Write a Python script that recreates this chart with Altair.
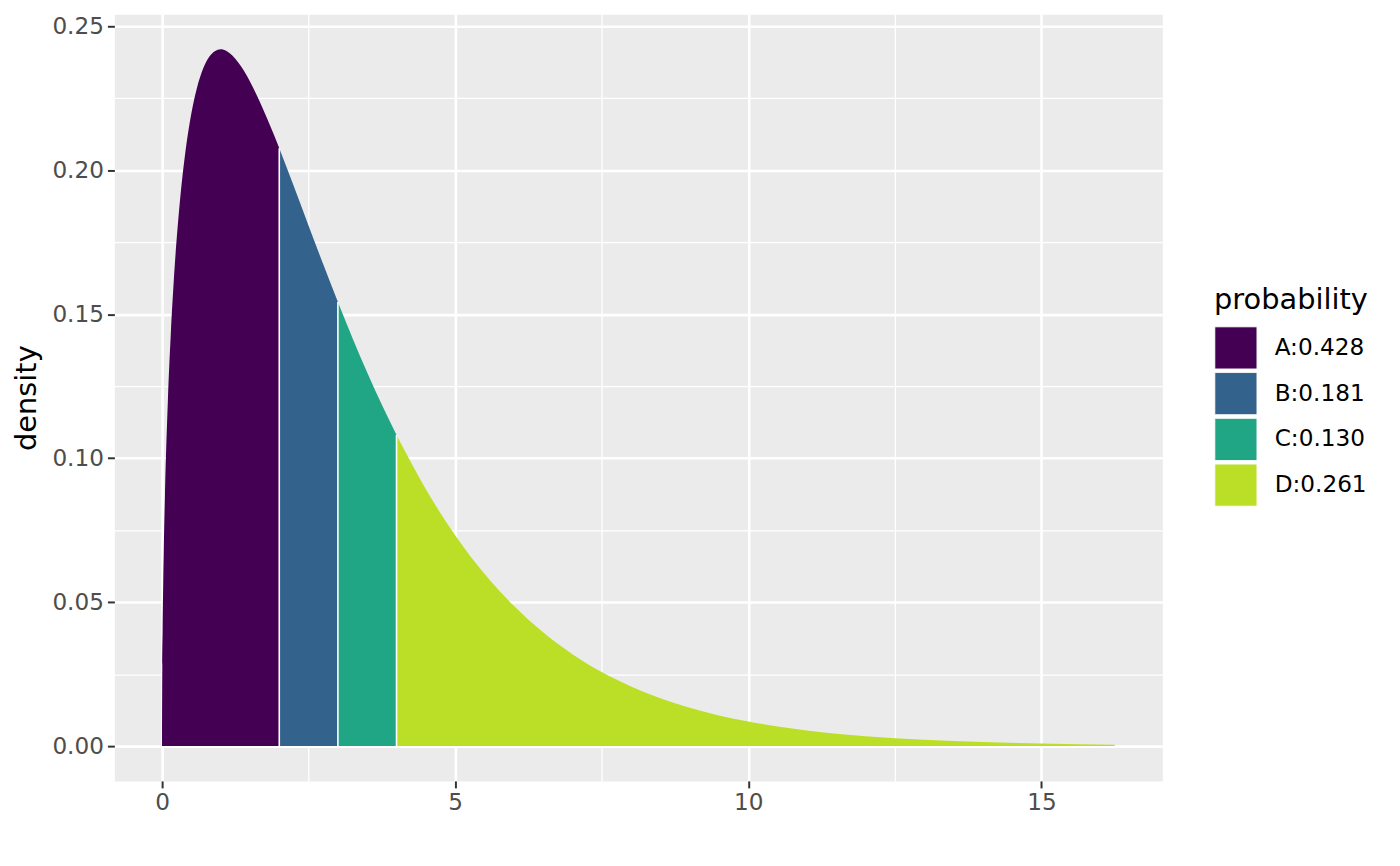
import pandas as pd
import altair as alt

# density curve
xs = [0, 0.005, 0.01, 0.02, 0.03, 0.05, 0.1, 0.15, 0.2, 0.3, 0.4, 0.5, 0.6, 0.7,
      0.8, 0.9, 1.0, 1.1, 1.2, 1.3, 1.4, 1.5, 1.6, 1.7, 1.8, 1.9, 2.0, 2.25, 2.5,
      2.75, 3.0, 3.25, 3.5, 3.75, 4.0, 4.5, 5.0, 5.5, 6.0, 6.5, 7.0, 7.5, 8.0,
      8.5, 9.0, 9.5, 10.0, 10.5, 11.0, 11.5, 12.0, 13.0, 14.0, 15.0, 16.25]
dens = [0, 0.0281, 0.0397, 0.0559, 0.0681, 0.0870, 0.1200, 0.1433, 0.1614,
        0.1881, 0.2066, 0.2197, 0.2289, 0.2352, 0.2392, 0.2413, 0.2420, 0.2414,
        0.2398, 0.2374, 0.2344, 0.2308, 0.2267, 0.2223, 0.2176, 0.2127, 0.2076,
        0.1943, 0.1807, 0.1673, 0.1542, 0.1416, 0.1297, 0.1185, 0.1080, 0.0892,
        0.0732, 0.0598, 0.0487, 0.0395, 0.0319, 0.0257, 0.0207, 0.0166, 0.0133,
        0.0106, 0.0085, 0.0068, 0.0054, 0.0043, 0.0034, 0.0022, 0.0014, 0.00086,
        0.00048]

groups = ['A', 'B', 'C', 'D']
probs = [0.428, 0.181, 0.130, 0.261]
cuts = [0, 2, 3, 4, 16.25]
colors = ['#440154', '#33638D', '#21A685', '#BBDF27']

# major + minor grid positions
x_ticks = [0, 2.5, 5, 7.5, 10, 12.5, 15]
y_ticks = [0, 0.025, 0.05, 0.075, 0.10, 0.125, 0.15, 0.175, 0.20, 0.225, 0.25]

curve = pd.DataFrame({'x': xs, 'density': dens})
labels = [f'{g}:{p:.3f}' for g, p in zip(groups, probs)]

parts = []
for i, lab in enumerate(labels):
    seg = curve[(curve.x >= cuts[i]) & (curve.x <= cuts[i + 1])].copy()
    seg['probability'] = lab
    parts.append(seg)
df = pd.concat(parts, ignore_index=True)
bounds = curve[curve.x.isin(cuts[1:-1])]

xscale = alt.Scale(domain=[-0.8125, 17.0625], nice=False, zero=False)
yscale = alt.Scale(domain=[-0.0121, 0.2541], nice=False, zero=False)

x_major = 'datum.value % 5 === 0'
y_major = 'round(datum.value * 1000) % 50 === 0'


def axis_style(test):
    return dict(domain=False, tickColor='#333333', tickWidth=2, tickSize=7,
                tickOpacity=alt.condition(test, alt.value(1), alt.value(0)),
                labelColor='#4D4D4D', labelFontSize=23.3, labelFont='DejaVu Sans',
                labelPadding=4, gridColor='white',
                gridWidth=alt.condition(test, alt.value(2.6), alt.value(1.3)))


area = alt.Chart(df).mark_area(interpolate='monotone').encode(
    x=alt.X('x:Q', scale=xscale,
            axis=alt.Axis(values=x_ticks, title=None,
                          labelExpr=f"{x_major} ? format(datum.value, 'd') : ''",
                          **axis_style(x_major))),
    y=alt.Y('density:Q', scale=yscale, stack=None,
            axis=alt.Axis(values=y_ticks, title='density',
                          labelExpr=f"{y_major} ? format(datum.value, '.2f') : ''",
                          titleFontSize=29, titleFontWeight='normal',
                          titleFont='DejaVu Sans', titleColor='black',
                          titleX=-88, titleY=385.5, titleAngle=-90,
                          titleAlign='center', titleBaseline='middle',
                          **axis_style(y_major))),
    color=alt.Color('probability:N',
                    scale=alt.Scale(domain=labels, range=colors),
                    legend=alt.Legend(orient='none', legendX=1106, legendY=273,
                                      padding=0, titleFontSize=29,
                                      titleFontWeight='normal', titleFont='DejaVu Sans',
                                      titleColor='black', titlePadding=12,
                                      labelFontSize=23.3, labelFont='DejaVu Sans',
                                      labelColor='black', labelOffset=17,
                                      symbolType='square', symbolSize=1806,
                                      symbolStrokeColor='white', symbolStrokeWidth=1,
                                      symbolOpacity=1, clipHeight=43, rowPadding=3)),
)

rules = alt.Chart(bounds).mark_rule(color='white', strokeWidth=1.6).encode(
    x=alt.X('x:Q', scale=xscale),
    y=alt.Y('density:Q', scale=yscale),
    y2=alt.datum(0),
)

chart = (
    alt.layer(area, rules)
    .properties(width=1054, height=771, autosize=alt.AutoSizeParams(type='none'),
                padding={'left': 107, 'top': 4, 'right': 231, 'bottom': 50})
    .configure_view(fill='#EBEBEB', stroke='transparent')
)

chart.save("out.html", embed_options={"renderer": "svg", "actions": False})
